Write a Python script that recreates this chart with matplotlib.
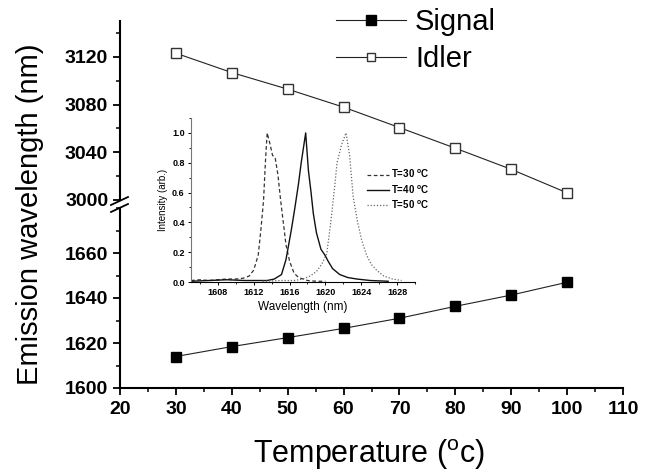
import matplotlib

matplotlib.use("Agg")
import matplotlib.pyplot as plt
from matplotlib.lines import Line2D
from matplotlib.ticker import MultipleLocator

plt.rcParams["font.family"] = ["Liberation Sans", "DejaVu Sans"]

temperature = [30, 40, 50, 60, 70, 80, 90, 100]
signal_nm = [1614.0, 1618.4, 1622.4, 1626.5, 1631.0, 1636.3, 1641.3, 1647.0]
idler_nm = [3123.0, 3106.8, 3092.9, 3077.8, 3060.7, 3043.4, 3025.7, 3006.0]

x_ticks = [20, 30, 40, 50, 60, 70, 80, 90, 100, 110]
low_ticks = [1600, 1620, 1640, 1660]
up_ticks = [3000, 3040, 3080, 3120]
inset_x_ticks = [1608, 1612, 1616, 1620, 1624, 1628]
inset_y_ticks = [0.0, 0.2, 0.4, 0.6, 0.8, 1.0]

# inset spectra
wl_30 = [1605.0, 1606.0, 1607.0, 1608.0, 1609.0, 1610.0, 1610.8, 1611.5, 1612.0, 1612.5, 1612.8,
         1613.1, 1613.3, 1613.5, 1613.8, 1614.1, 1614.4, 1614.7, 1615.0, 1615.3, 1615.6,
         1616.0, 1616.5, 1617.0, 1617.5, 1618.0, 1619.0, 1620.0]
int_30 = [0.01, 0.015, 0.01, 0.015, 0.02, 0.02, 0.025, 0.04, 0.08, 0.18, 0.35,
          0.55, 0.8, 1.0, 0.93, 0.85, 0.83, 0.72, 0.55, 0.4, 0.25,
          0.14, 0.06, 0.03, 0.02, 0.01, 0.005, 0.005]

wl_40 = [1605.0, 1607.0, 1609.0, 1611.0, 1612.5, 1613.5, 1614.3, 1615.1, 1615.6, 1616.2,
         1616.6, 1617.0, 1617.3, 1617.8, 1618.1, 1618.4, 1618.65, 1619.0, 1619.5, 1619.95,
         1620.3, 1620.8, 1621.6, 1622.5, 1623.5, 1625.0, 1627.0]
int_40 = [0.005, 0.01, 0.015, 0.01, 0.01, 0.01, 0.02, 0.05, 0.15, 0.35,
          0.5, 0.66, 0.8, 1.0, 0.75, 0.6, 0.46, 0.33, 0.22, 0.18,
          0.14, 0.09, 0.05, 0.03, 0.02, 0.01, 0.005]

wl_50 = [1613.0, 1615.0, 1616.5, 1617.5, 1618.3, 1619.0, 1619.6, 1620.15, 1620.6, 1621.0,
         1621.3, 1621.8, 1622.3, 1622.7, 1623.1, 1623.6, 1624.05, 1624.6, 1625.1, 1625.7,
         1626.5, 1627.5, 1628.5]
int_50 = [0.005, 0.01, 0.01, 0.02, 0.04, 0.07, 0.12, 0.19, 0.4, 0.62,
          0.8, 0.92, 1.0, 0.85, 0.57, 0.4, 0.28, 0.18, 0.12, 0.08,
          0.04, 0.02, 0.01]

fig = plt.figure(figsize=(6.57, 4.74), dpi=100)
W, H = 657, 474


def box(x0, y_top, x1, y_bottom):
    return [x0 / W, 1 - y_bottom / H, (x1 - x0) / W, (y_bottom - y_top) / H]


ax_low = fig.add_axes(box(120, 208, 623, 388))
ax_up = fig.add_axes(box(120, 21, 623, 200))

for ax in (ax_low, ax_up):
    ax.set_xlim(20, 110)
    ax.spines["right"].set_visible(False)
    ax.spines["top"].set_visible(False)
    ax.spines["left"].set_linewidth(1.5)
    ax.spines["bottom"].set_linewidth(1.5)
    ax.tick_params(axis="both", which="major", direction="out", length=5, width=1.3)
    ax.tick_params(axis="both", which="minor", direction="out", length=3, width=1.1)
    ax.patch.set_alpha(0)

ax_up.spines["bottom"].set_visible(False)
ax_up.tick_params(axis="x", which="both", bottom=False, labelbottom=False)

ax_low.set_ylim(1600, 1680)
ax_low.set_yticks(low_ticks, [str(v) for v in low_ticks], fontweight="bold", fontsize=14)
ax_low.yaxis.set_minor_locator(MultipleLocator(10))
ax_low.set_xticks(x_ticks, [str(v) for v in x_ticks], fontweight="bold", fontsize=14)
ax_low.xaxis.set_minor_locator(MultipleLocator(5))
ax_low.tick_params(axis="x", pad=4)

ax_up.set_ylim(3000, 3150)
ax_up.set_yticks(up_ticks, [str(v) for v in up_ticks], fontweight="bold", fontsize=14)
ax_up.yaxis.set_minor_locator(MultipleLocator(20))

ax_low.plot(temperature, signal_nm, color="#222222", lw=0.8, marker="s", ms=6.5,
            mfc="black", mec="black", zorder=3)
ax_up.plot(temperature, idler_nm, color="#222222", lw=0.8, marker="s", ms=7,
           mfc="white", mec="#333333", mew=1.0, zorder=3)

# axis break marks
for y0 in (205, 212):
    fig.add_artist(Line2D([111 / W, 128 / W], [1 - y0 / H, 1 - (y0 - 8) / H],
                          color="black", lw=1.3))

fig.text(30 / W, 1 - 214 / H, "Emission wavelength (nm)", rotation=90,
         ha="center", va="center", fontsize=21)
fig.text(369 / W, 1 - 455 / H, "Temperature ($^{\\mathregular{o}}$c)",
         ha="center", va="center", fontsize=22)

handles = [
    Line2D([], [], color="#222222", lw=0.8, marker="s", ms=6.5, mfc="black", mec="black"),
    Line2D([], [], color="#222222", lw=0.8, marker="s", ms=5.5, mfc="white", mec="#333333"),
]
fig.legend(handles, ["Signal", "Idler"], loc="upper left",
           bbox_to_anchor=(310 / W, 1 + 18 / H), frameon=False, fontsize=21,
           handlelength=2.4, handletextpad=0.3, labelspacing=0.3)

# inset with spectra
ax_in = fig.add_axes(box(191, 118, 415, 282))
ax_in.plot(wl_30, int_30, color="#333333", lw=0.9, ls=(0, (3, 2)), label="T=30 $^{\\mathregular{o}}$C")
ax_in.plot(wl_40, int_40, color="#111111", lw=1.0, ls="-", label="T=40 $^{\\mathregular{o}}$C")
ax_in.plot(wl_50, int_50, color="#666666", lw=0.9, ls=(0, (1, 1.5)), label="T=50 $^{\\mathregular{o}}$C")
ax_in.set_xlim(1605, 1630)
ax_in.set_ylim(0, 1.1)
ax_in.set_xticks(inset_x_ticks, [str(v) for v in inset_x_ticks], fontweight="bold", fontsize=6.5)
ax_in.xaxis.set_minor_locator(MultipleLocator(2))
ax_in.set_yticks(inset_y_ticks, [f"{v:.1f}" for v in inset_y_ticks], fontweight="bold", fontsize=6.5)
ax_in.yaxis.set_minor_locator(MultipleLocator(0.1))
ax_in.spines["right"].set_visible(False)
ax_in.spines["top"].set_visible(False)
ax_in.spines["left"].set_color("#777777")
ax_in.spines["left"].set_linewidth(0.8)
ax_in.spines["bottom"].set_linewidth(0.8)
ax_in.tick_params(axis="both", which="major", direction="out", length=2.5, width=0.7, pad=2)
ax_in.tick_params(axis="both", which="minor", direction="out", length=1.5, width=0.6)
ax_in.set_xlabel("Wavelength (nm)", fontsize=8.5, labelpad=3)
ax_in.set_ylabel("Intensity (arb.)", fontsize=7, labelpad=3)
ax_in.patch.set_alpha(0)
ax_in.legend(loc="upper left", bbox_to_anchor=(0.77, 0.72), frameon=False,
             prop={"size": 7, "weight": "bold"}, handlelength=2.2, handletextpad=0.2,
             labelspacing=0.3, borderaxespad=0)

fig.savefig("out.png", dpi=100)
